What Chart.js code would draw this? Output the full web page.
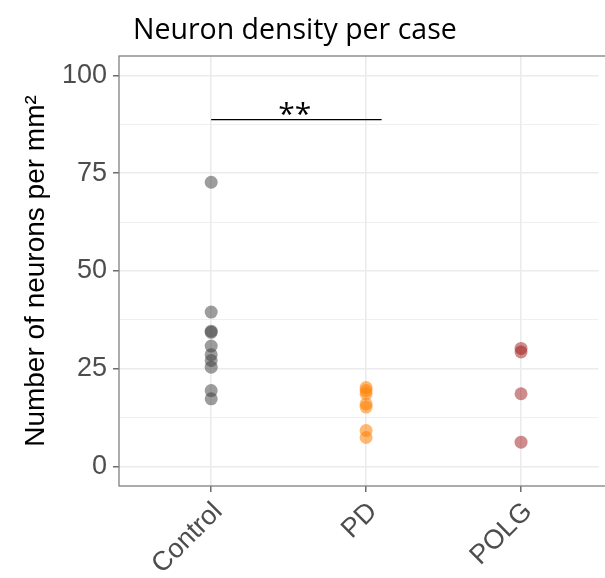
<!DOCTYPE html>
<html>
<head>
<meta charset="utf-8">
<script src="https://cdn.jsdelivr.net/npm/chart.js@4.4.1/dist/chart.umd.min.js"></script>
<style>
  html, body { margin: 0; padding: 0; background: #fff; }
  #wrap { width: 605px; height: 578px; position: relative; }
</style>
</head>
<body>
<div id="wrap"><canvas id="chartMain"></canvas></div>
<script>
const categories = ['Control', 'PD', 'POLG'];
const controlValues = [72.7, 39.5, 34.6, 34.3, 30.8, 28.6, 27.1, 25.4, 19.4, 17.3];
const pdValues = [20.2, 19.4, 18.6, 16.0, 15.2, 9.2, 7.4];
const polgValues = [30.2, 29.3, 18.6, 6.2];
const yTicks = [0, 12.5, 25, 37.5, 50, 62.5, 75, 87.5, 100];
const sigFrom = 1, sigTo = 2.1, sigY = 88.7, sigLabel = '**';

Chart.defaults.font.family = "'Liberation Sans', Arial, sans-serif";

const toPoints = (vals, i) => vals.map(v => ({ x: i + 1, y: v }));

const panelPlugin = {
    id: 'panel',
    afterDatasetsDraw(chart) {
        const { ctx, chartArea: a, scales } = chart;
        ctx.save();
        // panel border
        ctx.strokeStyle = '#808080';
        ctx.lineWidth = 1.3;
        ctx.strokeRect(a.left, a.top, a.right - a.left + 10, a.bottom - a.top);
        // significance label
        const x = scales.x.getPixelForValue((sigFrom + sigTo) / 2 - 0.01);
        const y = scales.y.getPixelForValue(sigY);
        ctx.fillStyle = '#000';
        ctx.font = "30px 'Open Sans'";
        ctx.textAlign = 'center';
        ctx.textBaseline = 'alphabetic';
        ctx.fillText(sigLabel, x, y + 4);
        ctx.restore();
    },
    afterDraw(chart) {
        const { ctx } = chart;
        ctx.save();
        ctx.fillStyle = '#000';
        ctx.font = "28.5px 'Open Sans'";
        ctx.textAlign = 'left';
        ctx.textBaseline = 'alphabetic';
        ctx.fillText('Neuron density per case', 133, 39);
        ctx.restore();
    }
};

new Chart(document.getElementById('chartMain'), {
    type: 'scatter',
    data: {
        datasets: [
            { label: categories[0], data: toPoints(controlValues, 0), backgroundColor: 'rgba(60,60,60,0.5)' },
            { label: categories[1], data: toPoints(pdValues, 1), backgroundColor: 'rgba(255,127,0,0.55)' },
            { label: categories[2], data: toPoints(polgValues, 2), backgroundColor: 'rgba(160,25,25,0.5)' },
            {
                label: 'sig', type: 'line',
                data: [{ x: sigFrom, y: sigY }, { x: sigTo, y: sigY }],
                borderColor: '#000', borderWidth: 1.3, pointRadius: 0, showLine: true
            }
        ]
    },
    options: {
        responsive: true, maintainAspectRatio: false, animation: false,
        layout: { padding: { top: 56, left: 0, right: 0, bottom: 0 } },
        elements: { point: { radius: 6.5, borderWidth: 0, hoverRadius: 6.5 } },
        plugins: { legend: { display: false }, tooltip: { enabled: false } },
        scales: {
            x: {
                type: 'linear', min: 0.405, max: 3.50,
                afterBuildTicks: s => { s.ticks = categories.map((c, i) => ({ value: i + 1 })); },
                afterFit: s => { s.height = 92; },
                ticks: {
                    autoSkip: false, minRotation: 45, maxRotation: 45, padding: 4, labelOffset: 7,
                    color: '#4d4d4d', font: { size: 27 },
                    callback: v => categories[v - 1]
                },
                grid: { color: '#ebebeb', lineWidth: 1.6, tickLength: 6, tickColor: '#555', tickWidth: 1.3 },
                border: { display: false }
            },
            y: {
                min: -5, max: 105,
                afterBuildTicks: s => { s.ticks = yTicks.map(v => ({ value: v })); },
                afterFit: s => { s.width = 119; },
                ticks: {
                    autoSkip: false, padding: 6, color: '#4d4d4d', font: { size: 27 },
                    callback: v => (v % 25 === 0 ? v : '')
                },
                grid: {
                    color: '#ebebeb', tickLength: 6, tickWidth: 1.3,
                    lineWidth: c => (c.tick && c.tick.value % 25 === 0 ? 1.6 : 0.8),
                    tickColor: c => (c.tick && c.tick.value % 25 === 0 ? '#555' : 'rgba(0,0,0,0)')
                },
                border: { display: false },
                title: {
                    display: true, text: 'Number of neurons per mm²', color: '#000',
                    font: { size: 28 }, padding: { top: 19, bottom: 0 }
                }
            }
        }
    },
    plugins: [panelPlugin]
});
</script>
</body>
</html>
